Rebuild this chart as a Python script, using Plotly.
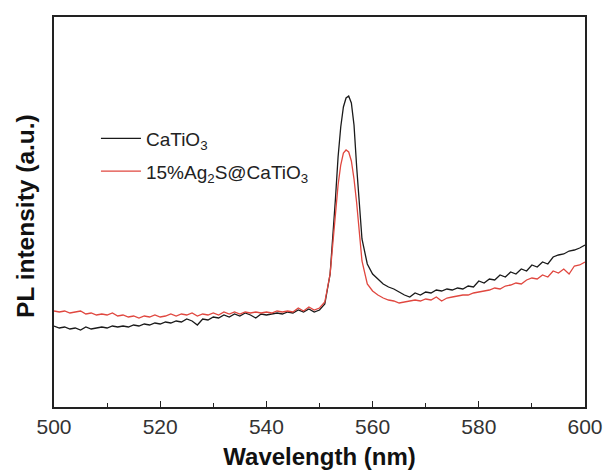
import plotly.graph_objects as go

# wavelength (nm)
wavelength = list(range(500, 554)) + [553.5, 554, 554.5, 555, 555.5, 556, 556.5, 557] + list(range(558, 601))

# CaTiO3 PL intensity (a.u.)
catio3 = [81, 79, 80, 78, 79, 77, 80, 78, 79, 80,
          79, 81, 80, 81, 80, 82, 81, 83, 82, 84,
          83, 85, 84, 86, 85, 88, 86, 82, 88, 87,
          90, 89, 92, 90, 93, 91, 94, 92, 89, 93,
          92, 93, 94, 93, 95, 94, 97, 95, 98, 95,
          97, 103, 133, 208,
          250, 280, 300, 309, 311, 304, 282, 240,
          168, 143, 133, 128, 123, 120, 118, 115,
          112, 110, 114, 112, 115, 114, 117, 116, 118, 117,
          119, 118, 121, 120, 126, 124, 128, 127, 132, 130,
          135, 133, 138, 136, 142, 140, 145, 143, 150, 152,
          153, 156, 157, 159, 162]

# 15%Ag2S@CaTiO3 PL intensity (a.u.)
ag2s = [96, 95, 96, 94, 95, 96, 93, 94, 92, 93,
        92, 94, 91, 92, 90, 91, 89, 91, 90, 92,
        90, 91, 93, 91, 93, 92, 94, 91, 93, 92,
        94, 92, 95, 93, 95, 93, 95, 94, 95, 94,
        95, 94, 96, 95, 96, 95, 99, 96, 100, 97,
        99, 105, 133, 193,
        222, 242, 254, 257, 255, 246, 228, 204,
        146, 123, 116, 112, 109, 107, 106, 104,
        105, 106, 107, 106, 108, 107, 110, 106, 109, 110,
        111, 112, 112, 114, 115, 116, 117, 119, 118, 121,
        122, 124, 123, 127, 129, 128, 132, 130, 136, 134,
        138, 133, 141, 142, 145]

series_names = ["CaTiO<sub>3</sub>", "15%Ag<sub>2</sub>S@CaTiO<sub>3</sub>"]
series_colors = ["#1a1a1a", "#e0473f"]
x_ticks = [500, 520, 540, 560, 580, 600]

fig = go.Figure()
for i, (vals, name, col) in enumerate(zip([catio3, ag2s], series_names, series_colors)):
    fig.add_trace(go.Scatter(x=wavelength, y=vals, mode="lines", name=name,
                             legendgroup=f"g{i}",
                             line=dict(color=col, width=1.3)))

fig.update_layout(
    width=606, height=475,
    margin=dict(l=54, r=21, t=17, b=68),
    paper_bgcolor="white", plot_bgcolor="white",
    font=dict(family="Liberation Sans, Arial, sans-serif", color="#222"),
    showlegend=True,
    legend=dict(x=0.079, y=0.737, xanchor="left", yanchor="top",
                bgcolor="rgba(0,0,0,0)", font=dict(size=19, color="#222"),
                itemwidth=40, tracegroupgap=5, traceorder="grouped"),
    annotations=[dict(text="<b>PL intensity (a.u.)</b>", textangle=-90,
                      xref="paper", yref="paper", x=(25 - 54) / 531, y=(407 - 216) / 390,
                      xanchor="center", yanchor="middle", showarrow=False,
                      font=dict(size=24.5, color="#111"))],
)
fig.update_xaxes(range=[500, 600], tickvals=x_ticks, ticks="inside", ticklen=6,
                 tickwidth=1, tickcolor="#222", automargin=False,
                 minor=dict(dtick=10, ticks="inside", ticklen=4, tickcolor="#222", tickwidth=1),
                 showline=True, linecolor="#222", linewidth=1.5, mirror=True,
                 showgrid=False, zeroline=False,
                 tickfont=dict(size=21, color="#333"),
                 title=dict(text="<b>Wavelength (nm)</b>", font=dict(size=24, color="#111"), standoff=11))
fig.update_yaxes(range=[0, 390], showticklabels=False, ticks="", automargin=False,
                 showline=True, linecolor="#222", linewidth=1.5, mirror=True,
                 showgrid=False, zeroline=False)

fig.write_html("out.html")
